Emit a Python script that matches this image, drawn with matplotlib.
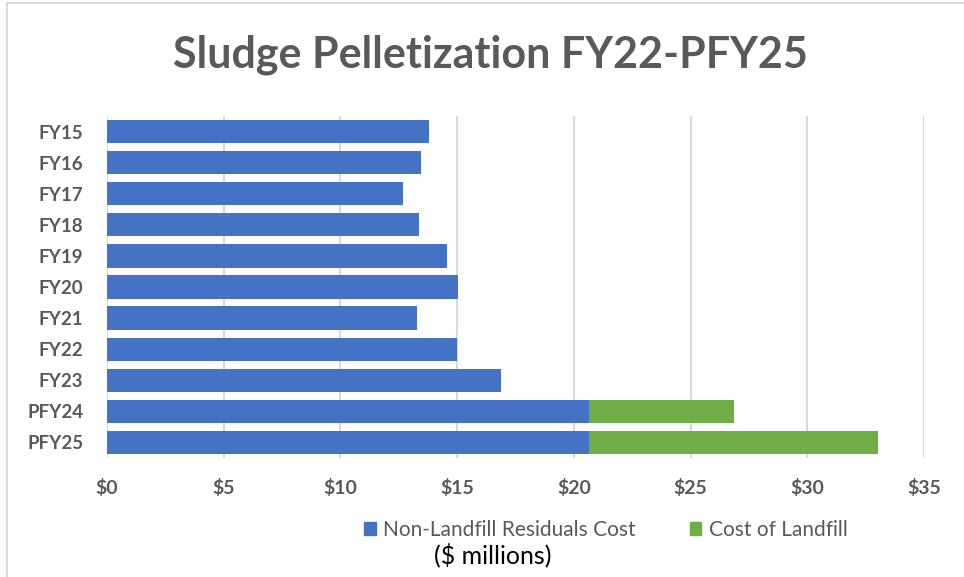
import matplotlib
matplotlib.use("Agg")
import matplotlib.pyplot as plt
from matplotlib.lines import Line2D
from matplotlib.patches import Patch

categories = ["FY15", "FY16", "FY17", "FY18", "FY19", "FY20", "FY21", "FY22", "FY23", "PFY24", "PFY25"]
non_landfill = [13.8, 13.45, 12.7, 13.35, 14.55, 15.05, 13.3, 15.0, 16.9, 20.65, 20.65]
landfill = [0, 0, 0, 0, 0, 0, 0, 0, 0, 6.2, 12.4]
xticks = [0, 5, 10, 15, 20, 25, 30, 35]
xticklabels = ["$0", "$5", "$10", "$15", "$20", "$25", "$30", "$35"]

BLUE = "#4472C4"
GREEN = "#70AD47"
TXT = "#595959"
GRID = "#D9D9D9"
FONT = ["Lato", "DejaVu Sans"]
plt.rcParams["font.family"] = FONT

W, H = 964, 577
fig = plt.figure(figsize=(W / 100, H / 100), dpi=100)
ax = fig.add_axes([107 / W, 1 - 458 / H, (924 - 107) / W, (458 - 116) / H])

y = list(range(len(categories)))
ax.barh(y, non_landfill, height=0.75, color=BLUE, label="Non-Landfill Residuals Cost", zorder=3)
ax.barh(y, landfill, left=non_landfill, height=0.75, color=GREEN, label="Cost of Landfill", zorder=3)

ax.set_xlim(0, 35)
ax.set_ylim(len(categories) - 0.5, -0.5)
ax.set_yticks(y)
ax.set_yticklabels(categories, fontsize=13.5, fontweight="bold", color=TXT)
ax.set_xticks(xticks)
ax.set_xticklabels(xticklabels, fontsize=14, fontweight="bold", color=TXT)
ax.tick_params(axis="both", length=0)
ax.tick_params(axis="x", pad=15)
ax.tick_params(axis="y", pad=17)
ax.grid(axis="x", color=GRID, linewidth=1.5, zorder=0)
for s in ax.spines.values():
    s.set_visible(False)

fig.text(490 / W, 1 - 55 / H, "Sludge Pelletization FY22-PFY25", ha="center", va="center",
         fontsize=31, fontweight="bold", color=TXT)

handles = [Patch(color=BLUE), Patch(color=GREEN)]
leg = fig.legend(handles, ["Non-Landfill Residuals Cost", "Cost of Landfill"], loc="center",
                 bbox_to_anchor=(606 / W, 1 - 530 / H), ncol=2, frameon=False,
                 fontsize=15, handlelength=0.55, handleheight=0.55, handletextpad=0.35,
                 columnspacing=2.6)
for t in leg.get_texts():
    t.set_color(TXT)

fig.text(493 / W, 1 - 555 / H, "($ millions)", ha="center", va="center", fontsize=18, color="black")

fig.add_artist(Line2D([7 / W, 7 / W], [0, 1 - 3 / H], color=GRID, linewidth=1.5))
fig.add_artist(Line2D([7 / W, 1], [1 - 3 / H, 1 - 3 / H], color=GRID, linewidth=1.5))

fig.savefig("out.png", dpi=100)
